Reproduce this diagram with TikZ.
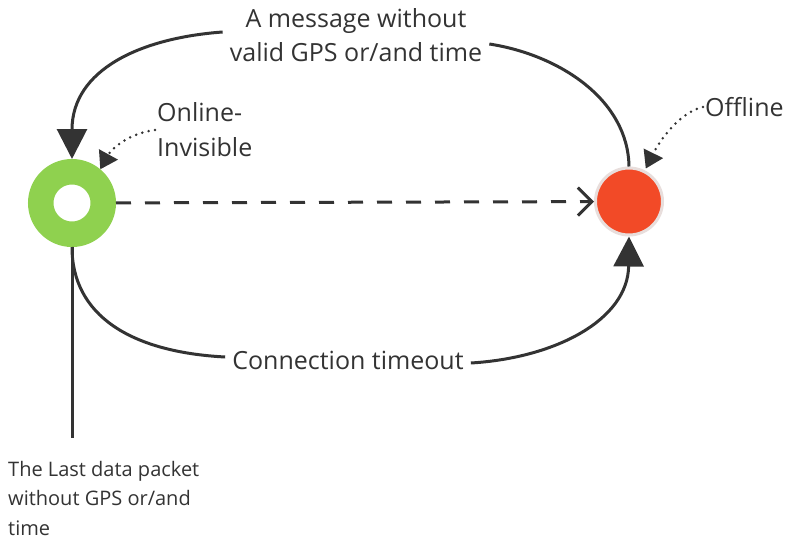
\documentclass[tikz,border=0pt]{standalone}
\usepackage{fontspec}
\setmainfont{Open Sans}
\usetikzlibrary{arrows.meta, positioning}

\definecolor{linegray}{HTML}{333333}
\definecolor{onlinegreen}{HTML}{8FD14F}
\definecolor{offlinered}{HTML}{F24A27}
\definecolor{ringgray}{HTML}{E8DEDC}

\tikzset{
  flow/.style={draw=linegray, line width=3pt},
  bigtip/.style={-{Triangle[length=30pt,width=30pt]}},
  hint/.style={draw=linegray, line width=2.8pt, line cap=round,
    dash pattern=on 0pt off 6.5pt, -{Triangle[length=17pt,width=21pt]}},
  lbl/.style={inner sep=7pt, align=center, text=linegray,
    font=\fontsize{25}{34}\selectfont},
  note/.style={inner sep=0pt, align=left, text=linegray},
}

\begin{document}
\begin{tikzpicture}[x=1pt, y=-1pt]
    \useasboundingbox (0,0) rectangle (788,546);
    % states
    \node[circle, inner sep=0pt, minimum size=62.5pt, draw=onlinegreen,
      line width=25.5pt, fill=white] (online) at (72,203) {};
    \node[circle, inner sep=0pt, minimum size=67pt, draw=ringgray,
      line width=3pt, fill=offlinered] (offline) at (629,201.5) {};
    % labels
    \node[lbl] (msg) at (356,35) {A message without\\valid GPS or/and time};
    \node[lbl] (timeout) at (348,360) {Connection timeout};
    \node[note, anchor=west, font=\fontsize{25}{35}\selectfont] (onlinetxt) at (157,130) {Online-\\Invisible};
    \node[note, anchor=west, font=\fontsize{25}{34}\selectfont] (offlinetxt) at (705,107) {Offline};
    \node[note, anchor=west, font=\fontsize{20}{29.5}\selectfont] (packet) at (8,498) {The Last data packet\\without GPS or/and\\time};
    \coordinate (stem) at (72,438);
    % transitions
    \draw[flow] (offline.north) .. controls (628,100) and (560,55) .. ([yshift=-9pt]msg.east);
    \draw[flow, bigtip] ([yshift=3pt]msg.west) .. controls (140,38) and (72,70) .. (online.north);
    \draw[flow] (online.south) .. controls (72,315) and (130,352) .. ([yshift=3pt]timeout.west);
    \draw[flow, bigtip] ([yshift=-3pt]timeout.east) .. controls (555,358) and (628,320) .. (offline.south);
    \draw[flow, dash pattern=on 15pt off 14pt, -{Straight Barb[length=14pt,width=28pt]}] (online) -- (offline);
    \draw[flow] (online.south) -- (stem);
    % pointers
    \draw[hint] ([xshift=-2pt]onlinetxt.west) .. controls (130,133) and (112,148) .. (online.50);
    \draw[hint, shorten >=2pt] ([xshift=-2pt]offlinetxt.west) .. controls (680,112) and (660,140) .. (offline.63);
\end{tikzpicture}
\end{document}
